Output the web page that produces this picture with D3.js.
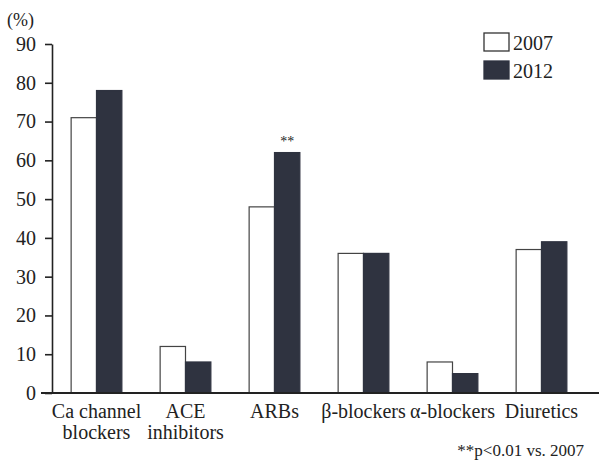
<!DOCTYPE html>
<html><head><meta charset="utf-8">
<script src="https://cdn.jsdelivr.net/npm/d3@7"></script>
<style>body{margin:0;background:#fff}svg{display:block}text{font-family:"Liberation Serif","DejaVu Serif",serif;fill:#222}</style>
</head><body><svg id="c" width="599" height="463"></svg>
<script>
const categories = ["Ca channel|blockers","ACE|inhibitors","ARBs","β-blockers","α-blockers","Diuretics"];
const series = ["2007","2012"];
const values2007 = [71,12,48,36,8,37];
const values2012 = [78,8,62,36,5,39];
const yTicks = [0,10,20,30,40,50,60,70,80,90];
const significance = [null,null,"**",null,null,null];

const svg = d3.select("#c");
const y = d3.scaleLinear().domain([0,90]).range([393,44]);
const x = d3.scaleBand().domain(categories).range([52,586]).paddingInner(0.43).paddingOuter(0.215);
const xs = d3.scaleBand().domain(series).range([0,x.bandwidth()]);
const fills = {"2007":"#ffffff","2012":"#2f3340"};
const data = categories.map((c,i)=>({c, v:{"2007":values2007[i],"2012":values2012[i]}, sig:significance[i]}));

// y axis
const ya = svg.append("g").attr("transform","translate(52,0)")
  .call(d3.axisLeft(y).tickValues(yTicks).tickSize(7).tickPadding(9).tickSizeOuter(0));
ya.select(".domain").attr("stroke","#222").attr("stroke-width",1.6);
ya.selectAll(".tick line").attr("stroke","#222").attr("stroke-width",1.6);
ya.selectAll(".tick text").style("font-size","20px").style("font-family","Liberation Serif").attr("fill","#222");

// bars
const g = svg.append("g");
data.forEach(d=>{
  series.forEach(s=>{
    g.append("rect")
      .attr("x", x(d.c)+xs(s)).attr("width", xs.bandwidth())
      .attr("y", y(d.v[s])).attr("height", y(0)-y(d.v[s]))
      .attr("fill", fills[s]).attr("stroke", s==="2007" ? "#444" : "#2f3340").attr("stroke-width",1.2);
  });
  if (d.sig) {
    svg.append("text").attr("x", x(d.c)+xs("2012")+xs.bandwidth()/2).attr("y", y(d.v["2012"])-7)
      .attr("text-anchor","middle").style("font-size","14px").attr("fill","#444").text(d.sig);
  }
});

// x axis line
svg.append("line").attr("x1",41).attr("x2",599).attr("y1",393).attr("y2",393).attr("stroke","#222").attr("stroke-width",1.8);

// category labels
categories.forEach(c=>{
  const lines = c.split("|");
  const t = svg.append("text").attr("text-anchor","middle").style("font-size","20px")
    .attr("x", x(c)+x.bandwidth()/2).attr("y", 418);
  lines.forEach((l,i)=> t.append("tspan").attr("x", x(c)+x.bandwidth()/2).attr("dy", i?21:0).text(l));
});

// y unit
svg.append("text").attr("x",7).attr("y",26).style("font-size","18px").text("(%)");

// legend
series.forEach((s,i)=>{
  svg.append("rect").attr("x",484).attr("y",33+i*28).attr("width",25).attr("height",18)
    .attr("fill",fills[s]).attr("stroke", i?"#2f3340":"#333").attr("stroke-width",1.3);
  svg.append("text").attr("x",513).attr("y",50+i*28).style("font-size","20px").text(s);
});

// footnote
svg.append("text").attr("x",584).attr("y",456).attr("text-anchor","end").style("font-size","17px").text("**p<0.01 vs. 2007");
</script></body></html>
